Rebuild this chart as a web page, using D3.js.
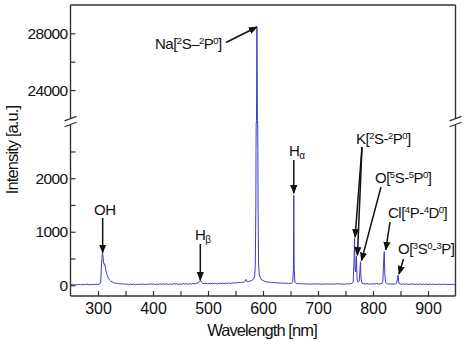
<!DOCTYPE html>
<html>
<head>
<meta charset="utf-8">
<script src="https://cdn.jsdelivr.net/npm/d3@7"></script>
<style>
  html, body { margin: 0; padding: 0; background: #fff; }
  svg { display: block; font-family: "Liberation Sans", Arial, sans-serif; }
</style>
</head>
<body>
<svg id="chart" width="468" height="344"></svg>
<script>
// ---- data ----
const wavelengths = [
  250,253,256,259,262,265,268,271,274,277,280,283,286,289,292,295,298,301,303,305,
  306,307,308,309,310,311,312,313,314,315,317,319,321,323,326,329,332,335,338,341,
  344,347,350,353,356,359,362,365,368,371,374,377,380,383,386,389,392,395,398,401,
  404,407,410,413,416,419,422,425,428,431,434,437,440,443,446,449,452,455,458,461,
  464,467,470,473,476,479,482,484,486,488,490,493,496,499,502,505,508,511,514,517,
  520,523,526,529,532,535,538,541,544,547,550,553,556,559,562,565,567,569,571,574,
  577,580,583,585,586,586.5,587,587.3,587.6,588.2,589,589.8,590.4,590.7,591,591.5,592,593,595,598,
  601,604,607,610,613,616,619,622,625,628,631,634,637,640,643,646,649,652,654,655.3,
  656,656.7,658,660,663,666,669,672,675,678,681,684,687,690,693,696,699,702,705,708,
  711,714,717,720,723,726,729,732,735,738,741,744,747,750,753,756,759,762,764,765.6,
  766.5,767.4,768.5,769.9,771,772.5,775,776.3,777.2,778.2,780,783,786,789,792,795,798,801,804,807,
  810,813,816,818,819.6,820.5,821.5,823,826,829,832,835,838,841,843,845.5,847,849,852,855,
  858,861,864,867,870,873,876,879,882,885,888,891,894,897,900,903,906,909,912,915,
  918,921,924,927,930,933,936,939,942,945,948,950
];
const intensities = [
  10,18,8,14,5,16,12,20,9,15,22,11,17,8,19,14,21,15,25,60,
  300,480,600,560,430,390,400,360,300,250,180,130,100,80,60,50,35,40,28,32,
  20,27,18,24,12,22,15,25,10,20,14,26,16,22,12,24,15,28,18,25,
  14,22,19,30,16,24,20,28,15,26,18,30,22,27,17,25,20,32,22,28,
  18,30,24,34,26,38,45,70,90,60,40,32,38,26,35,28,40,30,36,25,
  38,32,42,30,40,35,45,32,48,38,50,42,55,48,60,55,70,110,65,70,
  80,95,120,180,400,900,1500,2500,5000,15000,28400,15000,5000,2500,1500,900,400,220,140,100,
  85,70,65,55,60,48,52,45,50,40,46,38,42,35,40,32,38,40,60,300,
  1680,300,60,35,30,38,25,32,22,30,20,28,18,26,20,30,22,28,18,25,
  20,30,22,26,18,28,20,25,30,22,28,18,26,20,28,22,30,35,60,500,
  880,300,250,540,120,60,80,300,440,120,40,30,24,32,22,28,20,30,25,32,
  22,28,35,80,500,630,200,50,28,22,30,20,26,24,40,190,40,25,18,28,
  20,26,15,24,18,28,14,22,16,26,12,24,18,22,14,25,16,22,12,20,
  15,24,10,20,16,22,12,18,14,20,12,16
];
const xTicks = [300,350,400,450,500,550,600,650,700,750,800,850,900];
const yLowTicks = [0,500,1000,1500,2000,2500];
const yHighTicks = [24000,26000,28000];
const annotations = [
  {name: "OH"}, {name: "Hβ"}, {name: "Hα"}, {name: "Na"}, {name: "K"},
  {name: "O5"}, {name: "Cl"}, {name: "O3"}
];

// ---- layout ----
const L = 70.5, R = 455.5, T = 5, B = 296;
const lowTop = 124.7, highBottom = 118.4;
const svg = d3.select("#chart");

const x = d3.scaleLinear().domain([250, 950]).range([L, R]);
const yLow = d3.scaleLinear().domain([-200, 3000]).range([B, lowTop]);
const yHigh = d3.scaleLinear().domain([22000, 30000]).range([highBottom, T]);
const yGap = d3.scaleLinear().domain([3000, 22000]).range([lowTop, highBottom]);
function yPos(v) {
  if (v <= 3000) return yLow(v);
  if (v >= 22000) return yHigh(v);
  return yGap(v);
}

const spectrum = wavelengths.map((w, i) => ({w, v: intensities[i]}));

svg.append("clipPath").attr("id", "clip")
  .append("rect").attr("x", L).attr("y", T).attr("width", R - L).attr("height", B - T);

svg.append("path")
  .datum(spectrum)
  .attr("clip-path", "url(#clip)")
  .attr("fill", "none")
  .attr("stroke", "#3a3acc")
  .attr("stroke-width", 1)
  .attr("stroke-linejoin", "round")
  .attr("d", d3.line().x(d => x(d.w)).y(d => yPos(d.v)));

// ---- axes ----
const xAxis = d3.axisBottom(x).tickValues(xTicks).tickSize(-5).tickPadding(7)
  .tickFormat(d => d % 100 === 0 ? d : "");
const gx = svg.append("g").attr("transform", `translate(0,${B})`).call(xAxis);
gx.select(".domain").remove();
gx.selectAll("text").attr("font-size", 16).attr("font-family", "Liberation Sans, Arial, sans-serif").attr("fill", "#111");
gx.selectAll("line").attr("stroke", "#333").attr("stroke-width", 1.2);

const yLowAxis = d3.axisLeft(yLow).tickValues(yLowTicks).tickSize(-5).tickPadding(3)
  .tickFormat(d => d % 1000 === 0 ? d : "");
const gyl = svg.append("g").attr("transform", `translate(${L},0)`).call(yLowAxis);
const yHighAxis = d3.axisLeft(yHigh).tickValues(yHighTicks).tickSize(-5).tickPadding(3)
  .tickFormat(d => d % 4000 === 0 ? d : "");
const gyh = svg.append("g").attr("transform", `translate(${L},0)`).call(yHighAxis);
[gyl, gyh].forEach(g => {
  g.select(".domain").remove();
  g.selectAll("text").attr("font-size", 15.5).attr("letter-spacing", -0.6)
    .attr("font-family", "Liberation Sans, Arial, sans-serif").attr("fill", "#111");
  g.selectAll("line").attr("stroke", "#333").attr("stroke-width", 1.2);
});

// frame
const frame = svg.append("g").attr("stroke", "#333").attr("stroke-width", 1.4).attr("fill", "none");
frame.append("line").attr("x1", L).attr("x2", R).attr("y1", T).attr("y2", T);
frame.append("line").attr("x1", L).attr("x2", R).attr("y1", B).attr("y2", B);
[L, R].forEach(xx => {
  frame.append("line").attr("x1", xx).attr("x2", xx).attr("y1", T).attr("y2", highBottom);
  frame.append("line").attr("x1", xx).attr("x2", xx).attr("y1", lowTop).attr("y2", B);
  // break marks
  frame.append("path").attr("d", `M${xx - 6},${highBottom + 2.5}L${xx + 6},${highBottom - 2}`).attr("stroke-width", 1.2);
  frame.append("path").attr("d", `M${xx - 6},${lowTop + 2}L${xx + 6},${lowTop - 2.5}`).attr("stroke-width", 1.2);
});

// axis titles
svg.append("text").attr("x", 262).attr("y", 336).attr("text-anchor", "middle")
  .attr("font-size", 16.5).attr("letter-spacing", -0.9).attr("fill", "#111").text("Wavelength [nm]");
svg.append("text").attr("transform", "translate(18,150) rotate(-90)").attr("text-anchor", "middle")
  .attr("font-size", 16.5).attr("letter-spacing", -0.9).attr("fill", "#111").text("Intensity [a.u.]");

// ---- annotations ----
svg.append("defs").append("marker")
  .attr("id", "arr").attr("viewBox", "0 0 10 10").attr("refX", 9).attr("refY", 5)
  .attr("markerWidth", 6).attr("markerHeight", 6).attr("orient", "auto")
  .append("path").attr("d", "M0,1L10,5L0,9Z").attr("fill", "#111");

function arrow(x1, y1, x2, y2) {
  svg.append("line").attr("x1", x1).attr("y1", y1).attr("x2", x2).attr("y2", y2)
    .attr("stroke", "#111").attr("stroke-width", 1.5).attr("marker-end", "url(#arr)");
}
function label(xp, yp, parts, size) {
  const t = svg.append("text").attr("x", xp).attr("y", yp).attr("font-size", size || 15)
    .attr("letter-spacing", -0.5).attr("fill", "#111");
  parts.forEach(p => {
    if (typeof p === "string") t.append("tspan").text(p);
    else if (p.sup) t.append("tspan").attr("font-size", 9.5).attr("baseline-shift", "55%").text(p.sup);
    else if (p.sub) t.append("tspan").attr("font-size", 10).attr("baseline-shift", "-30%").text(p.sub);
  });
  return t;
}

// OH
label(94, 215, ["OH"]);
arrow(x(308.5), 218, x(308.5), yPos(610));
// H beta
label(195, 240, ["H", {sub: "β"}]);
arrow(x(486), 244, x(486), yPos(95));
// H alpha
label(289, 156, ["H", {sub: "α"}]);
arrow(x(656), 160, x(656), yPos(1720));
// Na
label(155, 48.5, ["Na[", {sup: "2"}, "S–", {sup: "2"}, "P", {sup: "0"}, "]"]);
arrow(226, 42.5, x(589), yPos(28450));
// K
label(356, 144, ["K[", {sup: "2"}, "S-", {sup: "2"}, "P", {sup: "0"}, "]"]);
arrow(362, 147, x(766.5) + 0.5, yPos(900));
arrow(362, 147, x(769.9) + 1, yPos(560));
// O 5S
label(375, 183, ["O[", {sup: "5"}, "S-", {sup: "5"}, "P", {sup: "0"}, "]"]);
arrow(381, 187, x(777.2) + 1, yPos(460));
// Cl
label(388, 218, ["Cl[", {sup: "4"}, "P-", {sup: "4"}, "D", {sup: "0"}, "]"]);
arrow(390, 222, x(820.5) + 1.5, yPos(660));
// O 3S
label(398, 254, ["O[", {sup: "3"}, "S", {sup: "0"}, "-", {sup: "3"}, "P]"]);
arrow(403.5, 259, x(845.5) + 1, yPos(210));
</script>
</body>
</html>
